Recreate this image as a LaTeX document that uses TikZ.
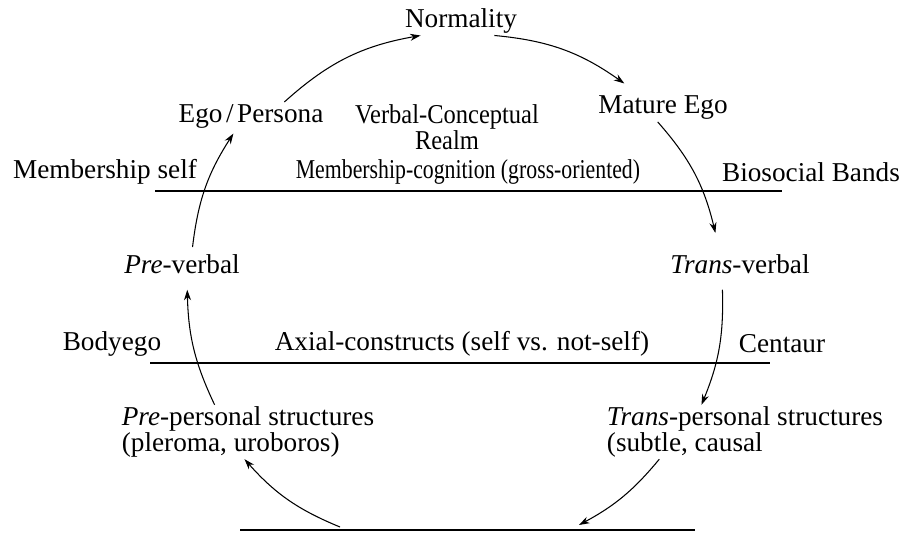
\documentclass[tikz,border=0pt]{standalone}
\usepackage{fontspec}
\setmainfont{Liberation Serif}
\newfontfamily\condfont[FakeStretch=0.8]{Liberation Serif}
\newfontfamily\realmfont[FakeStretch=0.9]{Liberation Serif}
\usetikzlibrary{arrows.meta}

\begin{document}
\begin{tikzpicture}[x=0.02cm, y=-0.02cm,
    every node/.style={inner sep=1pt, font=\fontsize{15.5}{14.5}\selectfont},
    narrow/.style={font=\condfont\fontsize{15.5}{13}\selectfont},
    band/.style={line width=0.7pt},
    flow/.style={-{Stealth[length=6pt,width=4pt]}, line width=0.6pt}
  ]
  \useasboundingbox (0,0) rectangle (914,533);

  % upper realm
  \node (normal) at (461,21) {Normality};
  \node (ego) at (251,116) {Ego\kern2pt/\kern2ptPersona};
  \node[align=center, font=\realmfont\fontsize{15.5}{13}\selectfont] (realm) at (447,127) {Verbal-Conceptual\\Realm};
  \node (mature) at (663,108) {Mature Ego};

  % biosocial bands
  \node (memself) at (105,172) {Membership self};
  \node[narrow] (memcog) at (468,172) {Membership-cognition (gross-oriented)};
  \node (biosoc) at (811,172) {Biosocial Bands};
  \coordinate (m0) at (155,191);
  \coordinate (m1) at (782,191);
  \draw[band] (m0) -- (m1);

  \node (preverb) at (182,264) {\textit{Pre}-verbal};
  \node (transverb) at (740,264) {\textit{Trans}-verbal};

  % centaur band
  \node (bodyego) at (112,344) {Bodyego};
  \node (axial) at (462,344) {Axial-constructs (self vs. not-self)};
  \node (centaur) at (782,344) {Centaur};
  \coordinate (a0) at (150,363);
  \coordinate (a1) at (770,363);
  \draw[band] (a0) -- (a1);

  \node[align=left] (prepers) at (248,432) {\textit{Pre}-personal structures\\(pleroma, uroboros)};
  \node[align=left] (transpers) at (745,432) {\textit{Trans}-personal structures\\(subtle, causal};

  % bottom
  \coordinate (b0) at (240,530);
  \coordinate (b1) at (340,527);
  \coordinate (b2) at (579,525);
  \coordinate (b3) at (695,530);
  \draw[band] (b0) -- (b3);

  % the cycle
  \draw[flow] ([xshift=19pt]ego.north) to[bend left=16] ([xshift=-23pt]normal.south);
  \draw[flow] ([xshift=19pt]normal.south) to[bend left=15] ([xshift=-22pt,yshift=6pt]mature.north);
  \draw[flow] ([xshift=-3pt]mature.south) to[bend left=14] ([xshift=-14pt,yshift=11pt]transverb.north);
  \draw[flow] ([xshift=-10pt,yshift=-8pt]transverb.south) to[bend left=12] ([xshift=55pt]transpers.north west);
  \draw[flow] ([xshift=31pt]transpers.south west) to[bend left=11] (b2);
  \draw[flow] (b1) to[bend left=13] ([xshift=-2pt]prepers.south);
  \draw[flow] ([xshift=54pt]prepers.north west) to[bend left=12] ([xshift=3pt,yshift=-8pt]preverb.south);
  \draw[flow] ([xshift=6pt,yshift=3pt]preverb.north) to[bend left=13] ([xshift=-10pt,yshift=-2pt]ego.south);
\end{tikzpicture}
\end{document}
